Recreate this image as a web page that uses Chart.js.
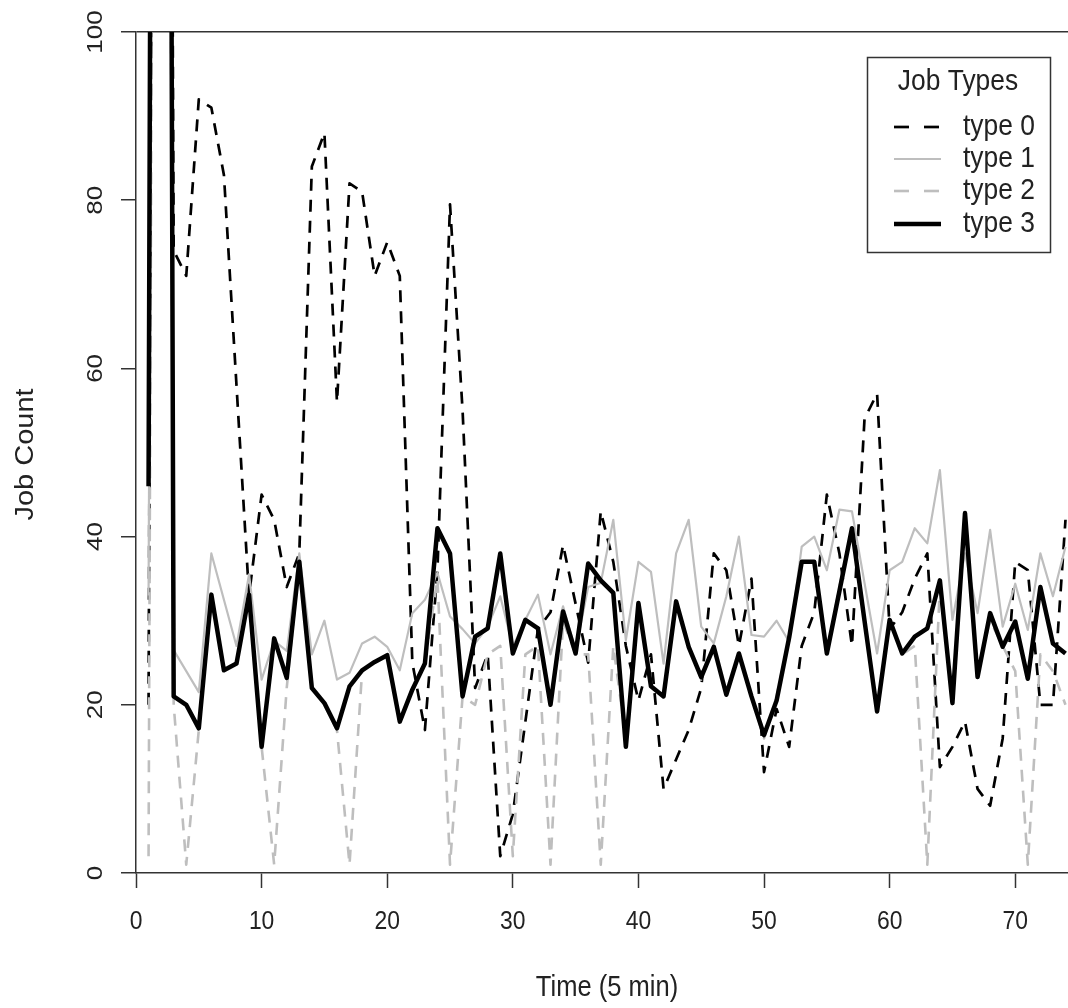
<!DOCTYPE html>
<html>
<head>
<meta charset="utf-8">
<script src="https://cdn.jsdelivr.net/npm/chart.js"></script>
<style>
html,body{margin:0;padding:0;background:#fff;}
#wrap{width:1068px;height:1008px;}
</style>
</head>
<body>
<div id="wrap"><canvas id="c" width="1068" height="1008"></canvas></div>
<script>
// ---- data ----
const times = [1,2,3,4,5,6,7,8,9,10,11,12,13,14,15,16,17,18,19,20,21,22,23,24,25,26,27,28,29,30,31,32,33,34,35,36,37,38,39,40,41,42,43,44,45,46,47,48,49,50,51,52,53,54,55,56,57,58,59,60,61,62,63,64,65,66,67,68,69,70,71,72,73,74];

const type0 = [20,420,74,71,92,91,83,58,33,45,42,34,38,84,88,56,82,81,71,75,71,25,17,36,79.5,55,22,26,2,7,18,29,31,39,32,25,43,37,27,20.5,26,10,13.5,17,22,38,36,27,35,12,19.5,15,27,31,45,38,27,54,57,29,31,35,38,12.6,15,18,10,8,16,37,36,20,20,42];

const type1 = [33,380,26.5,24,21.5,38,32.5,27,35.5,23,27.6,26.4,38,26,30,23,23.8,27.3,28.1,26.9,24.1,30.9,32.5,35.7,30.5,29,27.3,29.3,32.9,26.9,30.1,33.1,26,31.7,26.5,34,34.5,42,27.7,37,35.8,24.9,38,42,29.3,27.3,32.9,40,28.3,28.1,30,27.5,38.8,40,36,43.2,43,34.5,26.1,36,37,41,39.2,47.9,30.1,38,30.9,40.8,29.3,34.4,28.9,38,32.9,38.8];

const type2 = [2,400,20,1,17,33,24,25,33,15,1,22,37,22,20,17,1,24,25,26,18,22,25,35,1,21,20,26,27,2,26,27,1,30,26,26,1,27,16,32,22,21,32,27,23,27,21,26,21,16,21,28,37,37,26,34,41,30,19,30,26,27,1,34,21,42,24,30,27,24,1,26,24,20];

const type3 = [46,500,21,20,17.2,33.1,24.1,24.9,33.1,15,27.9,23.2,37,22,20.2,17.2,22.2,24.1,25.1,25.9,18,21.8,24.9,41,38,21,28.1,29.1,38,26.1,30.1,29.1,20,31.1,26.1,36.8,34.8,33.3,15,32.1,22.2,21,32.3,26.9,23.3,26.9,21.2,26.1,21,16.4,20.5,28,37,37,26.1,33.5,41,30,19.2,30.1,26.1,28.1,29.1,34.8,20.2,42.8,23.3,30.9,26.9,29.9,23.1,34,27.3,26.1];

const seriesNames = ['type 0','type 1','type 2','type 3'];
const xTicks = [0,10,20,30,40,50,60,70];
const yTicks = [0,20,40,60,80,100];
const legendTitle = 'Job Types';
const xTitle = 'Time (5 min)';
const yTitle = 'Job Count';

// ---- styles ----
const FONT = "'Liberation Sans',Arial,sans-serif";
const SQ = 0.88;            // horizontal squeeze of the lettering
const TXT = '#222';
const AX = '#333';
const GRAY = '#bebebe';
const styles = [
  {color:'#000', width:2.7, dash:[12,9]},
  {color:GRAY, width:2.2, dash:[]},
  {color:GRAY, width:2.6, dash:[12,9]},
  {color:'#000', width:4.5, dash:[]}
];

function pts(arr){ return times.map((t,i)=>({x:t, y:arr[i]})); }
const seriesData = [type0,type1,type2,type3];

const datasets = seriesData.map((arr,i)=>({
  label: seriesNames[i],
  data: pts(arr),
  borderColor: styles[i].color,
  borderWidth: styles[i].width,
  borderDash: styles[i].dash,
  borderCapStyle: 'butt',
  borderJoinStyle: 'round',
  pointRadius: 0,
  tension: 0,
  fill: false,
  order: 3 - i
}));

// draw text squeezed horizontally (in the text's own frame)
function sText(ctx, str, x, y, size, align, rot){
  ctx.save();
  ctx.translate(x, y);
  if (rot) ctx.rotate(rot);
  ctx.scale(rot ? 1 : SQ, rot ? SQ : 1);
  ctx.font = size + 'px ' + FONT;
  ctx.textAlign = align;
  ctx.textBaseline = 'middle';
  ctx.fillStyle = TXT;
  ctx.fillText(str, 0, 0);
  ctx.restore();
}

const overlay = {
  id:'overlay',
  afterDraw(chart){
    const ctx = chart.ctx;
    const xs = chart.scales.x, ys = chart.scales.y;
    const ca = chart.chartArea;
    ctx.save();
    // x tick labels
    xTicks.forEach(v=>{
      sText(ctx, String(v), xs.getPixelForValue(v), 922, 26, 'center', 0);
    });
    // y tick labels (rotated)
    yTicks.forEach(v=>{
      sText(ctx, String(v), 96, ys.getPixelForValue(v), 26, 'center', -Math.PI/2);
    });
    // axis titles
    sText(ctx, xTitle, 607, 988, 29, 'center', 0);
    sText(ctx, yTitle, 26, (ca.top + ca.bottom)/2 + 2, 29, 'center', -Math.PI/2);

    // legend box
    const bx = 867.5, by = 57.5, bw = 183, bh = 195;
    ctx.fillStyle = '#fff';
    ctx.fillRect(bx, by, bw, bh);
    ctx.strokeStyle = AX;
    ctx.lineWidth = 1.5;
    ctx.setLineDash([]);
    ctx.strokeRect(bx, by, bw, bh);
    sText(ctx, legendTitle, 958, 82, 30, 'center', 0);
    const rowY = [127, 159, 191, 224];
    seriesNames.forEach((name,i)=>{
      const st = styles[i];
      ctx.save();
      ctx.strokeStyle = st.color;
      ctx.lineWidth = st.width;
      ctx.lineCap = 'butt';
      ctx.setLineDash(st.dash.length ? [15,15] : []);
      ctx.beginPath();
      ctx.moveTo(894, rowY[i]);
      ctx.lineTo(941, rowY[i]);
      ctx.stroke();
      ctx.restore();
      sText(ctx, name, 963, rowY[i], 30, 'left', 0);
    });
    ctx.restore();
  }
};

new Chart(document.getElementById('c'), {
  type: 'line',
  data: { datasets },
  options: {
    responsive: false,
    animation: false,
    devicePixelRatio: 1,
    layout: { padding: { top: 32, right: 0, left: 0, bottom: 0 } },
    plugins: { legend: { display: false }, tooltip: { enabled: false } },
    scales: {
      x: {
        type: 'linear', min: 0, max: 74.2, position: 'bottom',
        afterFit(s){ s.height = 135; },
        afterBuildTicks(s){ s.ticks = xTicks.map(v=>({value:v})); },
        ticks: { display: false, includeBounds: false },
        grid: { drawOnChartArea: false, drawTicks: true, tickLength: 15, tickColor: AX, tickWidth: 1.5 },
        border: { display: true, color: AX, width: 1.5 },
        title: { display: false, text: xTitle }
      },
      y: {
        type: 'linear', min: 0, max: 100,
        afterFit(s){ s.width = 136; },
        afterBuildTicks(s){ s.ticks = yTicks.map(v=>({value:v})); },
        ticks: { display: false },
        grid: {
          drawOnChartArea: true, drawTicks: true, tickLength: 15, tickColor: AX, tickWidth: 1.5, lineWidth: 1.5,
          color: c => (c.tick && c.tick.value === 100) ? AX : 'rgba(0,0,0,0)'
        },
        border: { display: true, color: AX, width: 1.5 },
        title: { display: false, text: yTitle }
      }
    }
  },
  plugins: [overlay]
});
</script>
</body>
</html>
